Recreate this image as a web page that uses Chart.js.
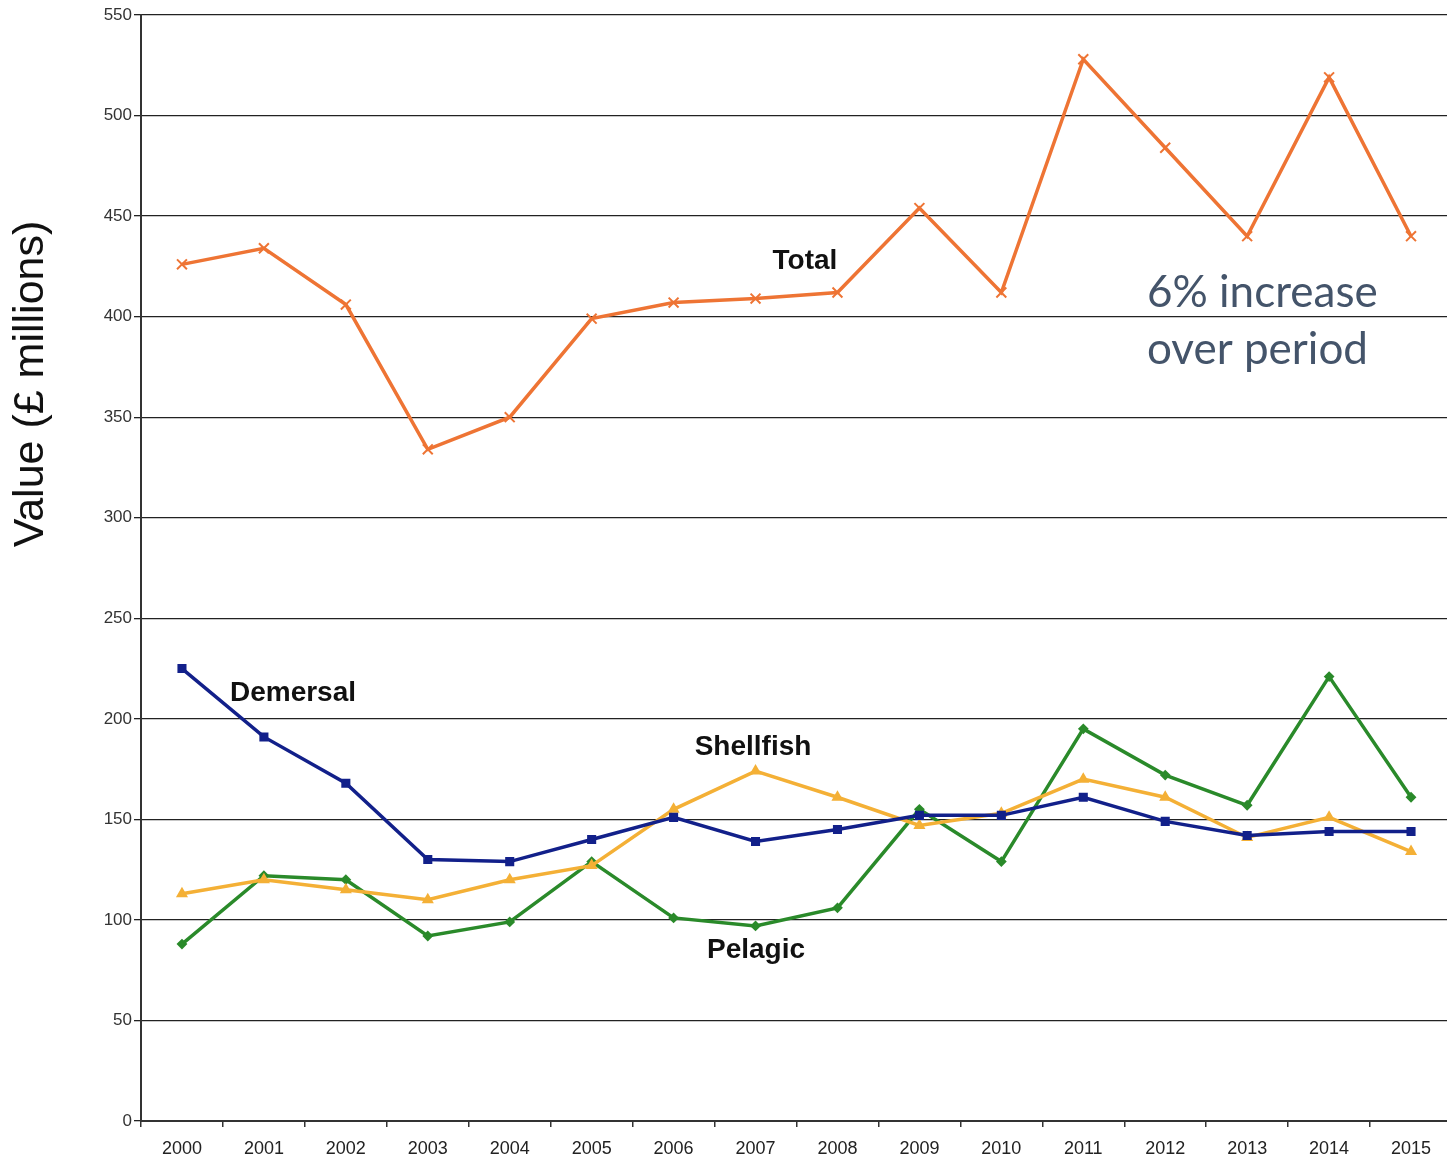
<!DOCTYPE html>
<html>
<head>
<meta charset="utf-8">
<script src="https://cdn.jsdelivr.net/npm/chart.js@4.4.1/dist/chart.umd.min.js"></script>
<style>
  html, body { margin: 0; padding: 0; background: #fff; overflow: hidden; }
  #wrap { width: 1461px; height: 1161px; position: relative; }
</style>
</head>
<body>
<div id="wrap"><canvas id="chart"></canvas></div>
<script>
const years = ['2000','2001','2002','2003','2004','2005','2006','2007','2008','2009','2010','2011','2012','2013','2014','2015'];
const total     = [426, 434, 406, 334, 350, 399, 407, 409, 412, 454, 412, 528, 484, 440, 519, 440];
const demersal  = [225, 191, 168, 130, 129, 140, 151, 139, 145, 152, 152, 161, 149, 142, 144, 144];
const shellfish = [113, 120, 115, 110, 120, 127, 155, 174, 161, 147, 153, 170, 161, 141, 151, 134];
const pelagic   = [88, 122, 120, 92, 99, 129, 101, 97, 106, 155, 129, 195, 172, 157, 221, 161];
const yTicks = [0, 50, 100, 150, 200, 250, 300, 350, 400, 450, 500, 550];

const FONT = '"Liberation Sans", Arial, sans-serif';

// labels drawn over the chart
const annotations = {
    id: 'annotations',
    afterDraw(chart) {
        const ctx = chart.ctx;
        ctx.save();
        ctx.fillStyle = '#111';
        ctx.font = 'bold 28px ' + FONT;
        ctx.textAlign = 'center';
        ctx.textBaseline = 'middle';
        ctx.fillText('Total', 805, 261);
        ctx.fillText('Demersal', 293, 693);
        ctx.fillText('Shellfish', 753, 747);
        ctx.fillText('Pelagic', 756, 950);

        ctx.fillStyle = '#44546A';
        ctx.font = '44px Lato, "Open Sans", sans-serif';
        ctx.textAlign = 'left';
        ctx.fillText('6% increase', 1147, 293);
        ctx.fillText('over period', 1147, 350);

        // y axis title
        ctx.fillStyle = '#111';
        ctx.font = '43px ' + FONT;
        ctx.translate(31, 384);
        ctx.rotate(-Math.PI / 2);
        ctx.textAlign = 'center';
        ctx.fillText('Value (\u00A3 millions)', 0, 0);
        ctx.restore();
    }
};

const ds = (label, data, color, style, radius, width) => ({
    label, data,
    borderColor: color,
    backgroundColor: color,
    borderWidth: width,
    pointStyle: style,
    pointRadius: radius,
    pointBorderWidth: 2,
    pointBorderColor: color,
    pointBackgroundColor: color,
    tension: 0
});

new Chart(document.getElementById('chart'), {
    type: 'line',
    data: {
        labels: years,
        datasets: [
            ds('Total', total, '#EE7434', 'crossRot', 7, 3.5),
            ds('Demersal', demersal, '#12208A', 'rect', 5, 3.5),
            ds('Shellfish', shellfish, '#F4B036', 'triangle', 5, 3.5),
            ds('Pelagic', pelagic, '#2A8A2A', 'rectRot', 4, 3.5)
        ]
    },
    options: {
        responsive: true,
        maintainAspectRatio: false,
        animation: false,
        layout: { padding: { top: 15, right: 4, left: 0, bottom: 0 } },
        plugins: { legend: { display: false }, tooltip: { enabled: false } },
        scales: {
            x: {
                offset: true,
                grid: { offset: true, drawOnChartArea: false, drawTicks: true, tickLength: 6, color: '#333', lineWidth: 1.5 },
                border: { display: true, color: '#333', width: 2 },
                ticks: { color: '#222', font: { family: FONT, size: 18 }, padding: 11, maxRotation: 0, autoSkip: false },
                afterFit(scale) { scale.height = 40; }
            },
            y: {
                min: 0,
                max: 550,
                afterBuildTicks(scale) { scale.ticks = yTicks.map(v => ({ value: v })); },
                grid: { color: '#222', lineWidth: 1.3, tickLength: 7 },
                border: { display: true, color: '#333', width: 2 },
                ticks: { color: '#333', font: { family: FONT, size: 17 }, padding: 2 },
                afterFit(scale) { scale.width = 141; }
            }
        }
    },
    plugins: [annotations]
});
</script>
</body>
</html>
